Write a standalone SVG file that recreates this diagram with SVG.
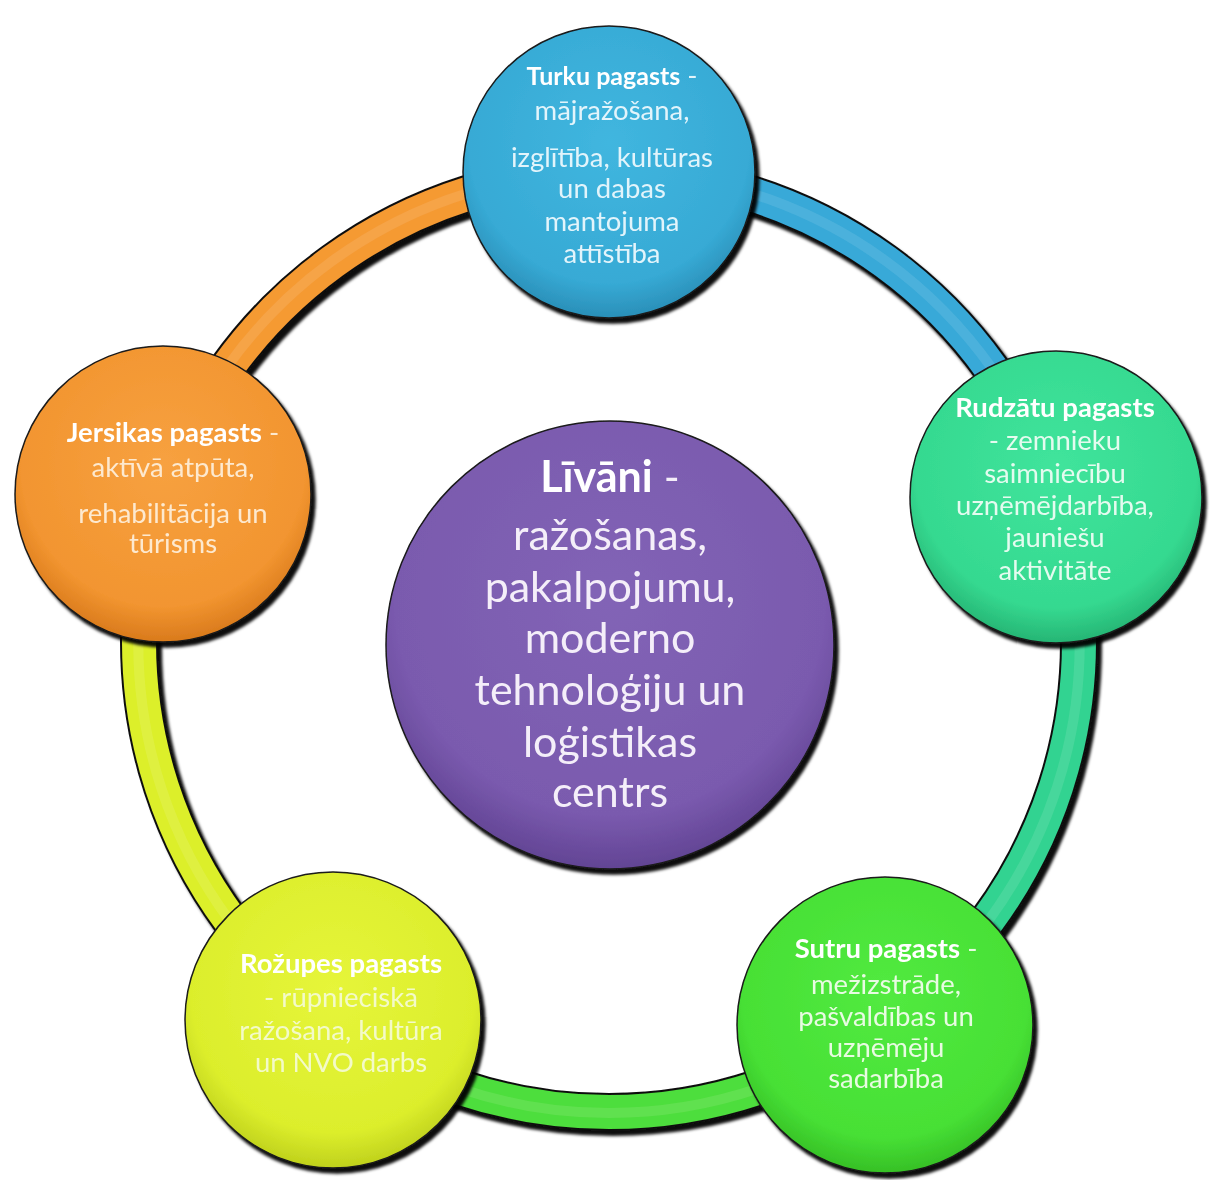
<svg xmlns="http://www.w3.org/2000/svg" width="1210" height="1180" viewBox="0 0 1210 1180">
<defs>
<filter id="shadow" x="-20%" y="-20%" width="140%" height="140%">
<feGaussianBlur in="SourceAlpha" stdDeviation="1.5" result="b"/>
<feOffset dx="4" dy="5" result="o"/>
<feFlood flood-color="#000" flood-opacity="0.95"/>
<feComposite in2="o" operator="in" result="s"/>
<feMerge><feMergeNode in="s"/><feMergeNode in="SourceGraphic"/></feMerge>
</filter>
<radialGradient id="gBlue" cx="50%" cy="40%" r="60%"><stop offset="0" stop-color="#40b6df"/><stop offset="0.8" stop-color="#37aad5"/><stop offset="1" stop-color="#2a8fb8"/></radialGradient>
<radialGradient id="gTeal" cx="50%" cy="40%" r="60%"><stop offset="0" stop-color="#40e49c"/><stop offset="0.8" stop-color="#35d990"/><stop offset="1" stop-color="#26b574"/></radialGradient>
<radialGradient id="gOrange" cx="50%" cy="40%" r="60%"><stop offset="0" stop-color="#f7a140"/><stop offset="0.8" stop-color="#f29530"/><stop offset="1" stop-color="#d97a1c"/></radialGradient>
<radialGradient id="gGreen" cx="50%" cy="40%" r="60%"><stop offset="0" stop-color="#52ea40"/><stop offset="0.8" stop-color="#47e035"/><stop offset="1" stop-color="#36c026"/></radialGradient>
<radialGradient id="gYellow" cx="50%" cy="40%" r="60%"><stop offset="0" stop-color="#e6f53a"/><stop offset="0.8" stop-color="#dcee2c"/><stop offset="1" stop-color="#bfd11c"/></radialGradient>
<radialGradient id="gPurple" cx="50%" cy="40%" r="60%"><stop offset="0" stop-color="#8264b6"/><stop offset="0.8" stop-color="#7a5aae"/><stop offset="1" stop-color="#624494"/></radialGradient>
<style>
.node circle{stroke:#1a1a1a;stroke-width:1.5}
.t{font-family:"Lato","Noto Sans","DejaVu Sans",sans-serif;font-size:27.5px;text-anchor:middle}
.b{font-weight:bold;fill:#ffffff}
.c{font-family:"Lato","Noto Sans","DejaVu Sans",sans-serif;font-size:43px;text-anchor:middle;fill:#f4eef9}
.edge{fill:none;stroke-width:34;stroke-linecap:butt}
.edgeo{fill:none;stroke:#111;stroke-width:38}
.hl{fill:none;stroke-width:10;stroke:#ffffff;stroke-opacity:0.1}
</style>
</defs>
<rect width="1210" height="1180" fill="#ffffff"/>

<g id="connectors" filter="url(#shadow)">
<path class="edgeo" d="M609 172 A470 470 0 0 1 1056 496.8"/>
<path class="edgeo" d="M1056 496.8 A470 470 0 0 1 885.3 1022.2"/>
<path class="edgeo" d="M885.3 1022.2 A470 470 0 0 1 332.7 1022.2"/>
<path class="edgeo" d="M332.7 1022.2 A470 470 0 0 1 162 496.8"/>
<path class="edgeo" d="M162 496.8 A470 470 0 0 1 609 172"/>
<path class="edge" stroke="#38a9d8" d="M609 172 A470 470 0 0 1 1056 496.8"/>
<path class="edge" stroke="#33d391" d="M1056 496.8 A470 470 0 0 1 885.3 1022.2"/>
<path class="edge" stroke="#4ede3c" d="M885.3 1022.2 A470 470 0 0 1 332.7 1022.2"/>
<path class="edge" stroke="#dcef2c" d="M332.7 1022.2 A470 470 0 0 1 162 496.8"/>
<path class="edge" stroke="#f59a33" d="M162 496.8 A470 470 0 0 1 609 172"/>
<path class="hl" d="M609 172 A466 466 0 0 1 1056 496.8 A466 466 0 0 1 885.3 1022.2 A466 466 0 0 1 332.7 1022.2 A466 466 0 0 1 162 496.8 A466 466 0 0 1 609 172"/>
</g>

<g id="node-center" class="node" filter="url(#shadow)">
<circle cx="610" cy="645" r="224" fill="url(#gPurple)"/>
<text class="c" x="610" y="492"><tspan font-weight="bold" fill="#ffffff">Līvāni</tspan> -</text>
<text class="c" x="610" y="550">ražošanas,</text>
<text class="c" x="610" y="602">pakalpojumu,</text>
<text class="c" x="610" y="653">moderno</text>
<text class="c" x="610" y="705">tehnoloģiju un</text>
<text class="c" x="610" y="757">loģistikas</text>
<text class="c" x="610" y="807">centrs</text>
</g>

<g id="node-turku" class="node" filter="url(#shadow)">
<circle cx="609" cy="172" r="146" fill="url(#gBlue)"/>
<text class="t" x="612" y="85" fill="#e2f4fb"><tspan class="b" font-size="25">Turku pagasts</tspan> -</text>
<text class="t" x="612" y="120" fill="#e2f4fb">mājražošana,</text>
<text class="t" x="612" y="167" fill="#e2f4fb">izglītība, kultūras</text>
<text class="t" x="612" y="198" fill="#e2f4fb">un dabas</text>
<text class="t" x="612" y="231" fill="#e2f4fb">mantojuma</text>
<text class="t" x="612" y="263" fill="#e2f4fb">attīstība</text>
</g>

<g id="node-rudzatu" class="node" filter="url(#shadow)">
<circle cx="1056" cy="497" r="146" fill="url(#gTeal)"/>
<text class="t" x="1055" y="417" fill="#e4fbef"><tspan class="b">Rudzātu pagasts</tspan></text>
<text class="t" x="1055" y="450" fill="#e4fbef">- zemnieku</text>
<text class="t" x="1055" y="483" fill="#e4fbef">saimniecību</text>
<text class="t" x="1055" y="515" fill="#e4fbef">uzņēmējdarbība,</text>
<text class="t" x="1055" y="547" fill="#e4fbef">jauniešu</text>
<text class="t" x="1055" y="580" fill="#e4fbef">aktivitāte</text>
</g>

<g id="node-sutru" class="node" filter="url(#shadow)">
<circle cx="885" cy="1025" r="148" fill="url(#gGreen)"/>
<text class="t" x="886" y="958" fill="#e8fbe2"><tspan class="b">Sutru pagasts</tspan> -</text>
<text class="t" x="886" y="994" fill="#e8fbe2">mežizstrāde,</text>
<text class="t" x="886" y="1026" fill="#e8fbe2">pašvaldības un</text>
<text class="t" x="886" y="1057" fill="#e8fbe2">uzņēmēju</text>
<text class="t" x="886" y="1088" fill="#e8fbe2">sadarbība</text>
</g>

<g id="node-rozupes" class="node" filter="url(#shadow)">
<circle cx="333" cy="1020" r="148" fill="url(#gYellow)"/>
<text class="t" x="341" y="973" fill="#f3fac8"><tspan class="b">Rožupes pagasts</tspan></text>
<text class="t" x="341" y="1007" fill="#f3fac8">- rūpnieciskā</text>
<text class="t" x="341" y="1040" fill="#f3fac8">ražošana, kultūra</text>
<text class="t" x="341" y="1072" fill="#f3fac8">un NVO darbs</text>
</g>

<g id="node-jersikas" class="node" filter="url(#shadow)">
<circle cx="163" cy="494" r="148" fill="url(#gOrange)"/>
<text class="t" x="173" y="442" fill="#fde9cf"><tspan class="b">Jersikas pagasts</tspan> -</text>
<text class="t" x="173" y="477" fill="#fde9cf">aktīvā atpūta,</text>
<text class="t" x="173" y="523" fill="#fde9cf">rehabilitācija un</text>
<text class="t" x="173" y="553" fill="#fde9cf">tūrisms</text>
</g>
</svg>
